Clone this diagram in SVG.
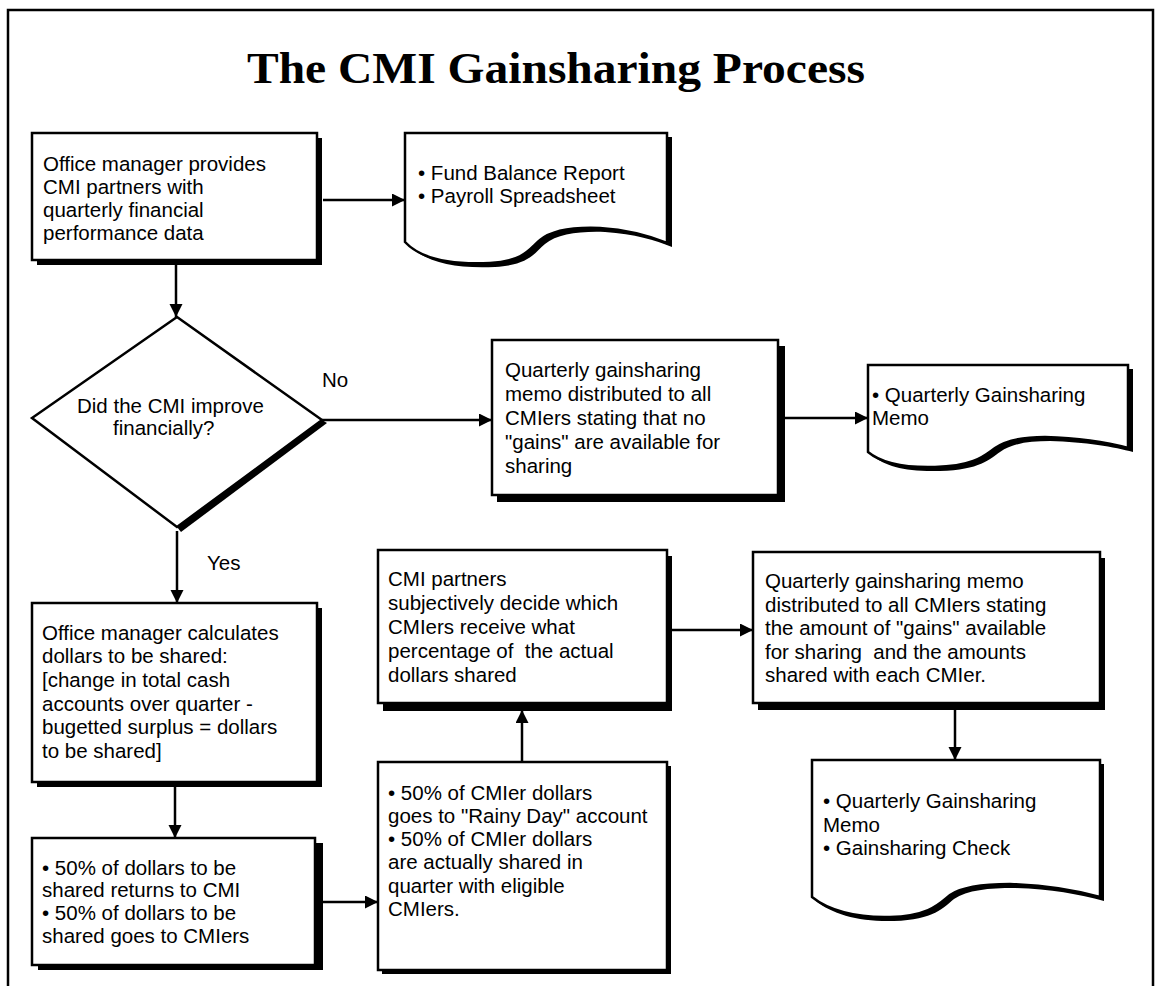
<svg xmlns="http://www.w3.org/2000/svg" width="1157" height="986" viewBox="0 0 1157 986">
<style>
.frame{fill:none;stroke:#000;stroke-width:2.5}
.sh{fill:#000}
.box{fill:#fff;stroke:#000;stroke-width:2.5}
.t{font-family:"Liberation Sans",Arial,sans-serif;font-size:20.5px;fill:#000;white-space:pre}
.title{font-family:"Liberation Serif","Times New Roman",serif;font-weight:bold;font-size:44px;fill:#000}
.con{fill:none;stroke:#000;stroke-width:2.5;marker-end:url(#ah)}
</style>
<defs>
<marker id="ah" markerUnits="userSpaceOnUse" markerWidth="14" markerHeight="14" refX="13" refY="6.5" orient="auto">
<path d="M0,0 L13,6.5 L0,13 z" fill="#000"/>
</marker>
</defs>
<rect width="1157" height="986" fill="#fff"/>
<rect class="frame" x="8" y="10" width="1145" height="990"/>
<text class="title" x="247" y="83" textLength="618" lengthAdjust="spacingAndGlyphs">The CMI Gainsharing Process</text>

<g id="connectors">
<path class="con" d="M323,200 H405"/>
<path class="con" d="M176,265 V317"/>
<path class="con" d="M322,420 H492"/>
<path class="con" d="M785,418 H868"/>
<path class="con" d="M177,531 V603"/>
<path class="con" d="M175,787 V838"/>
<path class="con" d="M323,902 H378"/>
<path class="con" d="M522,762 V710"/>
<path class="con" d="M670,630 H753"/>
<path class="con" d="M955,710 V760"/>
<text class="t" x="322" y="387">No</text>
<text class="t" x="207" y="570">Yes</text>
</g>

<g id="n1">
<rect class="sh" x="37" y="138" width="285" height="127"/>
<rect class="box" x="32" y="133" width="285" height="127"/>
<text class="t"><tspan x="43" y="171">Office manager provides</tspan><tspan x="43" y="194">CMI partners with</tspan><tspan x="43" y="217">quarterly financial</tspan><tspan x="43" y="240">performance data</tspan></text>
</g>

<g id="doc1">
<path class="sh" transform="translate(5,4)" d="M405,133 H667 V243 C650,236 630,230 600,228 C575,227 552,230 540,240 C530,248 525,261 490,263 C450,265 420,258 405,242 Z"/>
<path class="box" d="M405,133 H667 V243 C650,236 630,230 600,228 C575,227 552,230 540,240 C530,248 525,261 490,263 C450,265 420,258 405,242 Z"/>
<text class="t"><tspan x="418" y="180">• Fund Balance Report</tspan><tspan x="418" y="203">• Payroll Spreadsheet</tspan></text>
</g>

<g id="decision">
<polygon class="sh" points="322,420 327,423 181,532 177,527"/>
<polygon class="box" points="177,317 322,420 177,527 32,418"/>
<text class="t"><tspan x="77" y="413">Did the CMI improve</tspan><tspan x="113" y="435">financially?</tspan></text>
</g>

<g id="n2">
<rect class="sh" x="497" y="346" width="288" height="156"/>
<rect class="box" x="492" y="340" width="286" height="155"/>
<text class="t"><tspan x="505" y="377">Quarterly gainsharing</tspan><tspan x="505" y="401">memo distributed to all</tspan><tspan x="505" y="425">CMIers stating that no</tspan><tspan x="505" y="449">"gains" are available for</tspan><tspan x="505" y="473">sharing</tspan></text>
</g>

<g id="doc2">
<path class="sh" transform="translate(5,4)" d="M868,365 H1128 V448 C1110,443 1080,438 1045,437 C1025,437 1008,439 995,448 C985,455 975,466 935,467 C900,468 880,462 868,452 Z"/>
<path class="box" d="M868,365 H1128 V448 C1110,443 1080,438 1045,437 C1025,437 1008,439 995,448 C985,455 975,466 935,467 C900,468 880,462 868,452 Z"/>
<text class="t"><tspan x="872" y="402">• Quarterly Gainsharing</tspan><tspan x="872" y="425">Memo</tspan></text>
</g>

<g id="n3">
<rect class="sh" x="37" y="608" width="285" height="179"/>
<rect class="box" x="32" y="603" width="285" height="179"/>
<text class="t"><tspan x="42" y="640">Office manager calculates</tspan><tspan x="42" y="663">dollars to be shared:</tspan><tspan x="42" y="687">[change in total cash</tspan><tspan x="42" y="711">accounts over quarter -</tspan><tspan x="42" y="734">bugetted surplus = dollars</tspan><tspan x="42" y="758">to be shared]</tspan></text>
</g>

<g id="n4">
<rect class="sh" x="38" y="843" width="285" height="127"/>
<rect class="box" x="32" y="838" width="283" height="127"/>
<text class="t"><tspan x="42" y="875">• 50% of dollars to be</tspan><tspan x="42" y="897">shared returns to CMI</tspan><tspan x="42" y="920">• 50% of dollars to be</tspan><tspan x="42" y="943">shared goes to CMIers</tspan></text>
</g>

<g id="n5">
<rect class="sh" x="382" y="766" width="289" height="208"/>
<rect class="box" x="378" y="762" width="289" height="208"/>
<text class="t"><tspan x="388" y="800">• 50% of CMIer dollars</tspan><tspan x="388" y="823">goes to "Rainy Day" account</tspan><tspan x="388" y="846">• 50% of CMIer dollars</tspan><tspan x="388" y="869">are actually shared in</tspan><tspan x="388" y="893">quarter with eligible</tspan><tspan x="388" y="916">CMIers.</tspan></text>
</g>

<g id="n6">
<rect class="sh" x="383" y="556" width="289" height="155"/>
<rect class="box" x="378" y="550" width="289" height="153"/>
<text class="t"><tspan x="388" y="586">CMI partners</tspan><tspan x="388" y="610">subjectively decide which</tspan><tspan x="388" y="634">CMIers receive what</tspan><tspan x="388" y="658">percentage of  the actual</tspan><tspan x="388" y="682">dollars shared</tspan></text>
</g>

<g id="n7">
<rect class="sh" x="758" y="558" width="347" height="152"/>
<rect class="box" x="753" y="552" width="347" height="151"/>
<text class="t"><tspan x="765" y="588">Quarterly gainsharing memo</tspan><tspan x="765" y="612">distributed to all CMIers stating</tspan><tspan x="765" y="635">the amount of "gains" available</tspan><tspan x="765" y="659">for sharing  and the amounts</tspan><tspan x="765" y="682">shared with each CMIer.</tspan></text>
</g>

<g id="doc3">
<path class="sh" transform="translate(4,4)" d="M812,760 H1100 V897 C1075,890 1045,885 1010,884 C985,884 963,886 950,895 C940,903 930,916 890,917 C855,918 828,910 812,897 Z"/>
<path class="box" d="M812,760 H1100 V897 C1075,890 1045,885 1010,884 C985,884 963,886 950,895 C940,903 930,916 890,917 C855,918 828,910 812,897 Z"/>
<text class="t"><tspan x="823" y="808">• Quarterly Gainsharing</tspan><tspan x="823" y="832">Memo</tspan><tspan x="823" y="855">• Gainsharing Check</tspan></text>
</g>
</svg>
